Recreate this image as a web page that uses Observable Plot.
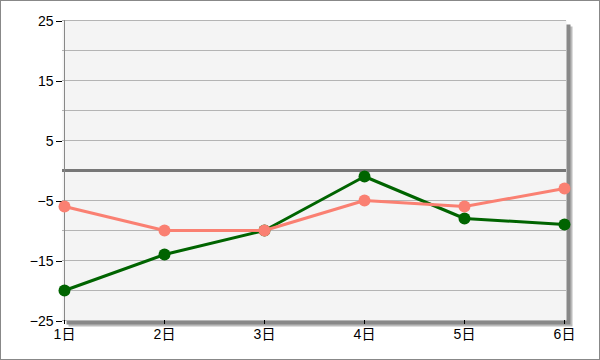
<!DOCTYPE html>
<html>
<head>
<meta charset="utf-8">
<script src="https://cdn.jsdelivr.net/npm/d3@7"></script>
<script src="https://cdn.jsdelivr.net/npm/@observablehq/plot@0.6"></script>
<style>
  html, body { margin: 0; padding: 0; background: #fff; }
  #wrap { position: relative; width: 600px; height: 360px; overflow: hidden; }
  #border { position: absolute; left: 0; top: 0; width: 600px; height: 360px; box-sizing: border-box; border: 1px solid #888; pointer-events: none; }
  svg { display: block; }
  #wrap svg text { font-size: 14px !important; font-family: 'Liberation Sans', 'Noto Sans CJK JP', sans-serif !important; }
</style>
</head>
<body>
<div id="wrap"><div id="border"></div></div>
<script>
const days = ["1日", "2日", "3日", "4日", "5日", "6日"];
const greenValues = [-20, -14, -10, -1, -8, -9];
const salmonValues = [-6, -10, -10, -5, -6, -3];
const yTickLabels = [25, 15, 5, -5, -15, -25];
const gridValues = [25, 20, 15, 10, 5, -5, -10, -15, -20, -25];
const zeroLine = [0];

const green = days.map((d, i) => ({day: d, value: greenValues[i]}));
const salmon = days.map((d, i) => ({day: d, value: salmonValues[i]}));

const font = "'Liberation Sans', 'Noto Sans CJK JP', sans-serif";

const chart = Plot.plot({
  width: 600,
  height: 360,
  marginLeft: 62,
  marginRight: 34,
  marginTop: 20,
  marginBottom: 40,
  style: {fontFamily: font, fontSize: "14px", color: "#000", background: "transparent"},
  x: {type: "point", domain: days, padding: 0, label: null},
  y: {domain: [-25, 25], label: null},
  marks: [
    Plot.frame({fill: "#bbb", stroke: null, dx: 6, dy: 6}),
    Plot.frame({fill: "#888", stroke: null, dx: 4, dy: 4}),
    Plot.frame({fill: "#f4f4f4", stroke: null}),
    Plot.ruleY(gridValues, {stroke: "#b4b4b4", strokeWidth: 1}),
    Plot.ruleY(zeroLine, {stroke: "#777", strokeWidth: 3}),
    Plot.ruleX([days[0]], {stroke: "#888", strokeWidth: 1}),
    Plot.axisY({ticks: yTickLabels, tickSize: 6, tickPadding: 3, stroke: "#000", fill: "#000", label: null, dy: 1}),
    Plot.axisX({ticks: days, tickSize: 4, tickPadding: 5, stroke: "#000", fill: "#000", label: null}),
    Plot.line(green, {x: "day", y: "value", stroke: "#006400", strokeWidth: 3}),
    Plot.dot(green, {x: "day", y: "value", r: 6, fill: "#006400", stroke: null}),
    Plot.line(salmon, {x: "day", y: "value", stroke: "#fa8072", strokeWidth: 3}),
    Plot.dot(salmon, {x: "day", y: "value", r: 6, fill: "#fa8072", stroke: null})
  ]
});
document.getElementById("wrap").insertBefore(chart, document.getElementById("border"));
</script>
</body>
</html>
